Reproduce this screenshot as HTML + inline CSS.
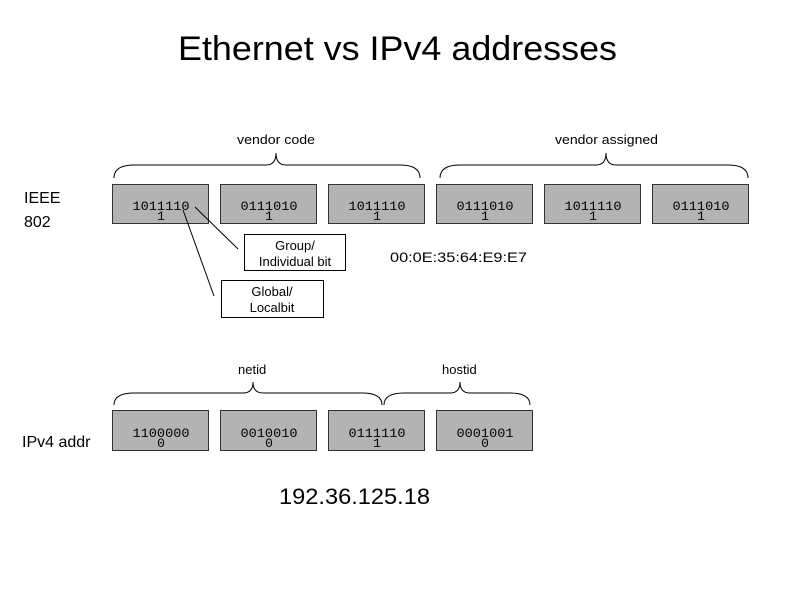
<!DOCTYPE html>
<html><head><style>body{margin:0;background:#fff}svg{display:block}</style></head><body>
<svg width="794" height="595" viewBox="0 0 794 595" xmlns="http://www.w3.org/2000/svg" font-family="Liberation Sans, sans-serif">
<rect width="794" height="595" fill="#fff"/>
<text x="178" y="60" font-size="34" textLength="439" lengthAdjust="spacingAndGlyphs">Ethernet vs IPv4 addresses</text>
<g font-size="13" fill="#000">
<text x="237" y="144" textLength="78" lengthAdjust="spacingAndGlyphs">vendor code</text>
<text x="555" y="144" textLength="103" lengthAdjust="spacingAndGlyphs">vendor assigned</text>
<text x="238" y="374">netid</text>
<text x="442" y="374">hostid</text>
</g>
<g fill="none" stroke="#000" stroke-width="1">
<path d="M114 178 Q114 165 134 165 L266 165 Q276 165 276 153 Q276 165 286 165 L400 165 Q420 165 420 178"/>
<path d="M440 178 Q440 165 460 165 L596 165 Q606 165 606 153 Q606 165 616 165 L728 165 Q748 165 748 178"/>
<path d="M114 405 Q114 393 134 393 L243 393 Q253 393 253 382 Q253 393 263 393 L362 393 Q382 393 382 405"/>
<path d="M384 405 Q384 393 404 393 L450 393 Q460 393 460 382 Q460 393 470 393 L510 393 Q530 393 530 405"/>
</g>
<g font-size="16">
<text x="24" y="203">IEEE</text>
<text x="24" y="227">802</text>
<text x="22" y="447">IPv4 addr</text>
</g>
<g fill="#b3b3b3" stroke="#333" stroke-width="1">
<rect x="112.5" y="184.5" width="96" height="39"/>
<rect x="220.5" y="184.5" width="96" height="39"/>
<rect x="328.5" y="184.5" width="96" height="39"/>
<rect x="436.5" y="184.5" width="96" height="39"/>
<rect x="544.5" y="184.5" width="96" height="39"/>
<rect x="652.5" y="184.5" width="96" height="39"/>
<rect x="112.5" y="410.5" width="96" height="40"/>
<rect x="220.5" y="410.5" width="96" height="40"/>
<rect x="328.5" y="410.5" width="96" height="40"/>
<rect x="436.5" y="410.5" width="96" height="40"/>
</g>
<g font-family="Liberation Mono, monospace" font-size="13" text-anchor="middle">
<text x="161" y="210" textLength="57" lengthAdjust="spacingAndGlyphs">1011110</text><text x="161" y="220">1</text>
<text x="269" y="210" textLength="57" lengthAdjust="spacingAndGlyphs">0111010</text><text x="269" y="220">1</text>
<text x="377" y="210" textLength="57" lengthAdjust="spacingAndGlyphs">1011110</text><text x="377" y="220">1</text>
<text x="485" y="210" textLength="57" lengthAdjust="spacingAndGlyphs">0111010</text><text x="485" y="220">1</text>
<text x="593" y="210" textLength="57" lengthAdjust="spacingAndGlyphs">1011110</text><text x="593" y="220">1</text>
<text x="701" y="210" textLength="57" lengthAdjust="spacingAndGlyphs">0111010</text><text x="701" y="220">1</text>
<text x="161" y="437" textLength="57" lengthAdjust="spacingAndGlyphs">1100000</text><text x="161" y="447">0</text>
<text x="269" y="437" textLength="57" lengthAdjust="spacingAndGlyphs">0010010</text><text x="269" y="447">0</text>
<text x="377" y="437" textLength="57" lengthAdjust="spacingAndGlyphs">0111110</text><text x="377" y="447">1</text>
<text x="485" y="437" textLength="57" lengthAdjust="spacingAndGlyphs">0001001</text><text x="485" y="447">0</text>
</g>
<g stroke="#000" fill="#fff">
<line x1="195" y1="207" x2="238" y2="249"/>
<line x1="183" y1="210" x2="214" y2="296"/>
<rect x="244.5" y="234.5" width="101" height="36"/>
<rect x="221.5" y="280.5" width="102" height="37"/>
</g>
<g font-size="13" text-anchor="middle">
<text x="295" y="250">Group/</text>
<text x="295" y="266">Individual bit</text>
<text x="272" y="296">Global/</text>
<text x="272" y="312">Localbit</text>
</g>
<text x="390" y="262" font-size="14" textLength="137" lengthAdjust="spacingAndGlyphs">00:0E:35:64:E9:E7</text>
<text x="279" y="504" font-size="22" textLength="151" lengthAdjust="spacingAndGlyphs">192.36.125.18</text>
</svg>
</body></html>
